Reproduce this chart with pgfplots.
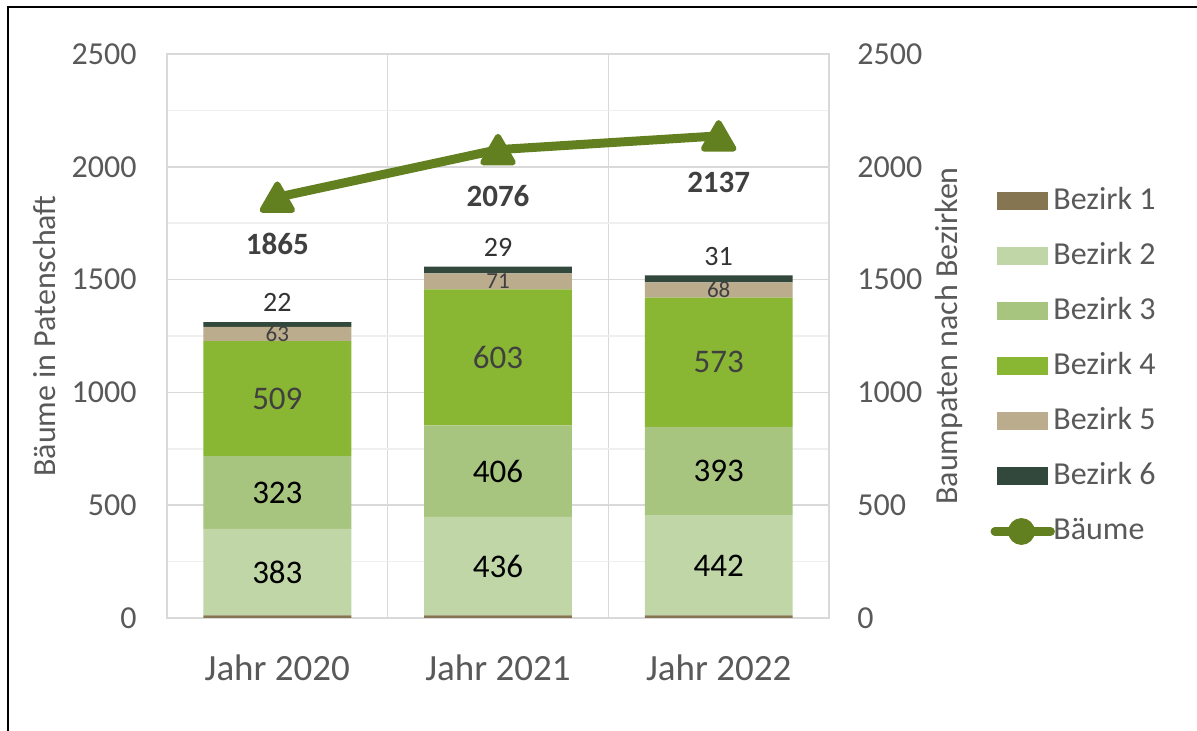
\documentclass[border=0pt]{standalone}
\usepackage{fontspec}
\setmainfont{Carlito}
\usepackage{pgfplots}
\pgfplotsset{compat=1.18}
\definecolor{bz1}{HTML}{857550}
\definecolor{bz2}{HTML}{C0D6A6}
\definecolor{bz3}{HTML}{A8C57F}
\definecolor{bz4}{HTML}{8AB733}
\definecolor{bz5}{HTML}{BAAC8C}
\definecolor{bz6}{HTML}{33483C}
\definecolor{lin}{HTML}{638021}
\definecolor{tickc}{HTML}{595959}
\definecolor{lab}{HTML}{404040}
\definecolor{gridc}{HTML}{D9D9D9}
\definecolor{mgridc}{HTML}{EFEFEF}
\pgfplotsset{
  base/.style={
    at={(83.5pt,56.5pt)}, anchor=south west,
    width=331pt, height=282pt, scale only axis,
    xmin=-0.5, xmax=2.5, ymin=0, ymax=2500,
    ytick={0,500,...,2500},
    /pgf/number format/assume math mode=true,
    /pgf/number format/1000 sep={},
    major tick length=0pt, minor tick length=0pt,
    tick style={draw=none},
    ticklabel style={font=\fontsize{16}{19}\selectfont, text=tickc},
  },
  swatch/.style={legend image code/.code={\fill[##1] (0pt,-4.5pt) rectangle (25.5pt,4.5pt);}},
  lbl/.style={draw=none, mark=none, nodes near coords, point meta=explicit symbolic,
    every node near coord/.style={anchor=center, font=\fontsize{#1}{#1}\selectfont, inner sep=0pt}},
}
\begin{document}
\begin{tikzpicture}
\useasboundingbox (0,0) rectangle (598.5pt,365.5pt);
\fill[white] (0,0) rectangle (598.5pt,365.5pt);
\draw[black, line width=1pt] (4pt,0) -- (4pt,362pt) -- (600pt,362pt);
\begin{axis}[base,
  ybar stacked, bar width=0.67,
  axis line style={gridc, line width=0.75pt},
  xtick={0,1,2}, xticklabels={Jahr 2020,Jahr 2021,Jahr 2022},
  xticklabel style={font=\fontsize{18.5}{22}\selectfont, anchor=center, yshift=-25pt},
  yticklabel style={anchor=east, xshift=-15pt, inner sep=0pt},
  minor xtick={-0.5,0.5,1.5,2.5},
  minor ytick={250,750,...,2250},
  xminorgrids=true, ymajorgrids=true, yminorgrids=true,
  major y grid style={gridc, line width=0.75pt},
  minor x grid style={gridc, line width=0.75pt},
  minor y grid style={mgridc, line width=0.75pt},
  ylabel={Bäume in Patenschaft},
  every axis y label/.style={at={(axis description cs:-0.1843,0.5)}, rotate=90, anchor=center,
    font=\fontsize{16}{19}\selectfont, text=tickc},
  legend style={at={(axis description cs:1.2538,0.764)}, anchor=north west, draw=none, fill=none,
    inner sep=0pt, row sep=13.5pt, font=\fontsize{16}{19}\selectfont, text=tickc,
    nodes={inner sep=0pt, text height=11pt, text depth=3pt},
    /tikz/every odd column/.append style={column sep=2.5pt}},
  legend cell align=left,
]
\addplot[fill=bz1, draw=none, swatch] coordinates {(0,12) (1,12) (2,12)};
\addlegendentry{Bezirk 1}
\addplot[fill=bz2, draw=none, swatch] coordinates {(0,383) (1,436) (2,442)};
\addlegendentry{Bezirk 2}
\addplot[fill=bz3, draw=none, swatch] coordinates {(0,323) (1,406) (2,393)};
\addlegendentry{Bezirk 3}
\addplot[fill=bz4, draw=none, swatch] coordinates {(0,509) (1,603) (2,573)};
\addlegendentry{Bezirk 4}
\addplot[fill=bz5, draw=none, swatch] coordinates {(0,63) (1,71) (2,68)};
\addlegendentry{Bezirk 5}
\addplot[fill=bz6, draw=none, swatch] coordinates {(0,22) (1,29) (2,31)};
\addlegendentry{Bezirk 6}
\addlegendimage{legend image code/.code={
  \path[draw=none, fill=none] (0pt,-4.5pt) rectangle (25.5pt,4.5pt);
  \draw[overlay, lin, line width=4.5pt, line cap=round] (-1.2pt,0) -- (26.5pt,0);
  \fill[overlay, lin] (12pt,0) circle (6.5pt);}}
\addlegendentry{Bäume}
\end{axis}
\begin{axis}[base,
  axis x line=none, axis y line*=right,
  axis line style={draw=none},
  yticklabel style={anchor=west, xshift=14pt, inner sep=0pt},
  ylabel={Baumpaten nach Bezirken},
  every axis y label/.style={at={(axis description cs:1.1813,0.5)}, rotate=90, anchor=center,
    font=\fontsize{16}{19}\selectfont, text=tickc},
]
\addplot[lbl=16.5, every node near coord/.append style={text=black}]
  coordinates {(0,203.5)[383] (1,230)[436] (2,233)[442]};
\addplot[lbl=16.5, every node near coord/.append style={text=black}]
  coordinates {(0,556.5)[323] (1,651)[406] (2,650.5)[393]};
\addplot[lbl=16.5, every node near coord/.append style={text=lab}]
  coordinates {(0,972.5)[509] (1,1155.5)[603] (2,1133.5)[573]};
\addplot[lbl=11.5, every node near coord/.append style={text=lab}]
  coordinates {(0,1258.5)[63] (1,1492.5)[71] (2,1454)[68]};
\addplot[lbl=14, every node near coord/.append style={text=lab!80!black}]
  coordinates {(0,1397)[22] (1,1642)[29] (2,1604)[31]};
\addplot[lin, line width=4.5pt, line join=round, mark=triangle*, mark size=8.5pt,
  mark options={line width=3pt, line join=round, fill=lin, draw=lin, yshift=-2.1pt},
  nodes near coords, point meta=explicit symbolic,
  every node near coord/.style={anchor=center, yshift=-21pt, inner sep=0pt,
    font=\bfseries\fontsize{15.5}{15.5}\selectfont, text=lab}]
  coordinates {(0,1865)[1865] (1,2076)[2076] (2,2137)[2137]};
\end{axis}
\end{tikzpicture}
\end{document}
